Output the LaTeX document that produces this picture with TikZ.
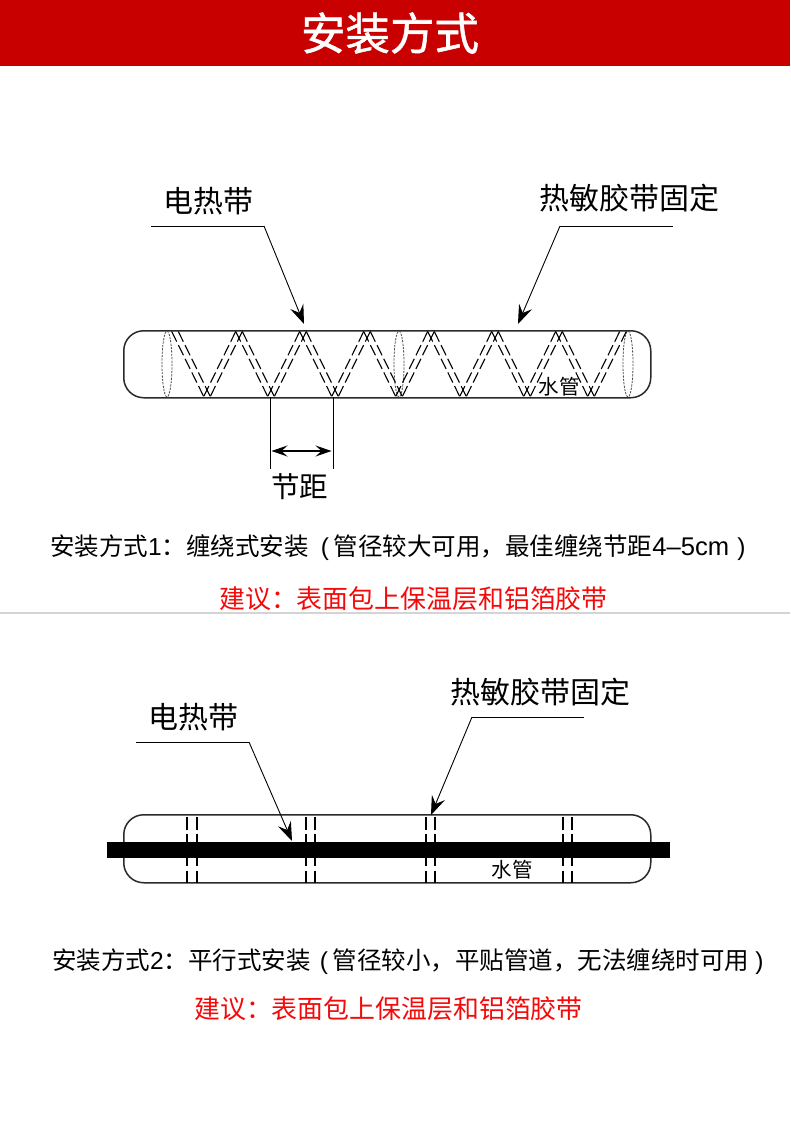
\documentclass[tikz,border=0pt]{standalone}
\usepackage{fontspec}
\usetikzlibrary{arrows.meta}
\setmainfont{Noto Sans CJK SC}
\newfontfamily\heavycjk[FakeBold=1.2]{Noto Sans CJK SC}
\newfontfamily\lat{Liberation Sans}
\newcommand{\fsz}[1]{\fontsize{#1pt}{#1pt}\selectfont}
\definecolor{barred}{HTML}{C80000}
\definecolor{redtext}{HTML}{F40A0A}
\definecolor{linegray}{HTML}{2A2A2A}
\tikzset{
  x=1pt,y=-1pt,
  pipe/.style={draw=linegray,line width=1.5pt,rounded corners=20pt,minimum width=527pt,minimum height=67pt,inner sep=0pt,anchor=north west},
  leader/.style={draw=black,line width=0.9pt},
  pointer/.style={draw=black,line width=0.9pt,-{Stealth[length=19pt,width=14pt,inset=7pt]}},
  zig/.style={draw=black,line width=1.1pt,dash pattern=on 11.3pt off 3.9pt},
  wrapline/.style={draw=black,line width=1.4pt,dash pattern=on 13pt off 3.5pt on 16pt off 4pt on 12pt off 5pt on 17pt off 4pt},
  ring/.style={draw=black!70,line width=0.8pt,dash pattern=on 2.2pt off 1.2pt},
  lab/.style={inner sep=0pt,anchor=west,text=black},
  caption/.style={lab,font=\fsz{24.5}},
  advice/.style={lab,text=redtext,font=\fsz{25.9}},
  callout/.style={lab,font=\fsz{30}},
  water/.style={inner sep=0pt,text=black,font=\fsz{20.5}},
}
\begin{document}
\begin{tikzpicture}
\useasboundingbox (0,0) rectangle (790,1148);
\fill[white] (0,0) rectangle (790,1148);
\fill[barred] (0,0) rectangle (790,66.5);
\node[inner sep=0pt,text=white,font=\fsz{44.5}\heavycjk] (title) at (390,33) {安装方式};

% ---- method 1
\node[callout] (c1) at (163,201) {电热带};
\node[callout] (c2) at (539,198) {热敏胶带固定};
\node[pipe] (p1) at (123,330) {};
\foreach \cx in {167,399,628} \draw[ring] (\cx,364) ellipse (5 and 33);
\foreach \t/\b in {175/207,239/207,239/271,303/271,303/335,367/335,367/399,431/399,431/463,495/463,495/527,559/527,559/591,623/591}{
  \draw[zig] (\t-3.3,331.5) -- (\b-3.3,396.5);
  \draw[zig] (\t+3.3,331.5) -- (\b+3.3,396.5);
}
\coordinate (a1) at (151,226);
\coordinate (a2) at (264,226);
\coordinate (a3) at (304,324);
\draw[leader] (a1) -- (a2);
\draw[pointer] (a2) -- (a3);
\coordinate (b1) at (673,226);
\coordinate (b2) at (560,226);
\coordinate (b3) at (518,324);
\draw[leader] (b1) -- (b2);
\draw[pointer] (b2) -- (b3);
\node[water] (w1) at (559,387) {水管};
\coordinate (d1) at (270,397);
\coordinate (d2) at (270,469);
\coordinate (d3) at (333,397);
\coordinate (d4) at (333,469);
\coordinate (d5) at (271.5,451);
\coordinate (d6) at (331.5,451);
\draw[leader,line width=1pt] (d1) -- (d2);
\draw[leader,line width=1pt] (d3) -- (d4);
\draw[line width=1.2pt,{Stealth[length=16pt,width=11pt,inset=6pt]}-{Stealth[length=16pt,width=11pt,inset=6pt]}] (d5) -- (d6);
\node[lab,font=\fsz{28.5}] (pitch) at (271,487) {节距};
\node[caption] (t1) at (50,548) {安装方式{\lat 1}：缠绕式安装\hspace{12pt}{\lat (}\hspace{5pt}管径较大可用，最佳缠绕节距{\lat\fontsize{25.6pt}{25.6pt}\selectfont 4–5cm}\hspace{8pt}{\lat )}};
\node[advice] (r1) at (219,599) {建议：表面包上保温层和铝箔胶带};
\fill[black!17] (0,612) rectangle (790,613.5);

% ---- method 2
\node[callout] (c3) at (148,717) {电热带};
\node[callout] (c4) at (450,692) {热敏胶带固定};
\node[pipe,minimum height=68pt] (p2) at (123,814) {};
\foreach \x in {187,197,306,315,426,435,563,572}
  \draw[wrapline] (\x,817) -- (\x,883);
\node[fill=black,inner sep=0pt,minimum width=563pt,minimum height=15.5pt,anchor=north west] (hb) at (107,842) {};
\coordinate (e1) at (136,742);
\coordinate (e2) at (249,742);
\coordinate (e3) at (292,841);
\draw[leader] (e1) -- (e2);
\draw[pointer] (e2) -- (e3);
\coordinate (f1) at (584,717);
\coordinate (f2) at (472,717);
\coordinate (f3) at (431,815);
\draw[leader] (f1) -- (f2);
\draw[pointer] (f2) -- (f3);
\node[water] (w2) at (512,870) {水管};
\node[caption] (t2) at (52,962) {安装方式{\lat 2}：平行式安装\hspace{9pt}{\lat (}\hspace{5pt}管径较小，平贴管道，无法缠绕时可用\hspace{6pt}{\lat )}};
\node[advice] (r2) at (194,1009) {建议：表面包上保温层和铝箔胶带};
\end{tikzpicture}
\end{document}
